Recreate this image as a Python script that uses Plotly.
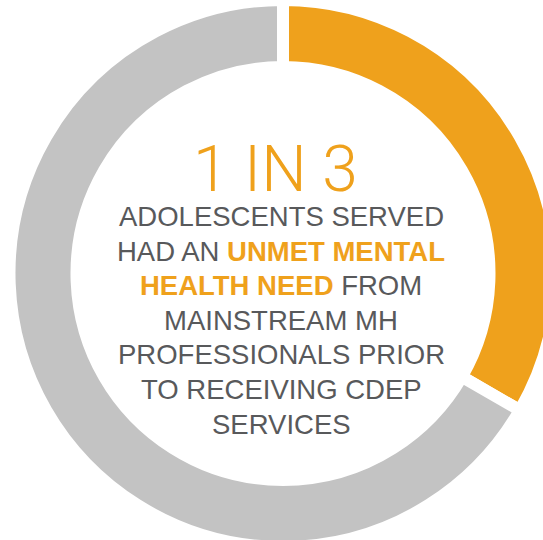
import plotly.graph_objects as go

# Share of adolescents served, split into "unmet need" vs the rest
segment_labels = ["Unmet mental health need", "Other adolescents served"]
segment_values = [1, 2]
segment_colors = ["#EFA11C", "#C3C3C3"]

headline = "1 IN 3"
ORANGE = "#EFA11C"
GREY_TEXT = "#58595B"

body_lines = [
    "ADOLESCENTS SERVED",
    f"HAD AN <span style='color:{ORANGE}'><b>UNMET MENTAL</b></span>",
    f"<span style='color:{ORANGE}'><b>HEALTH NEED</b></span> FROM",
    "MAINSTREAM MH",
    "PROFESSIONALS PRIOR",
    "TO RECEIVING CDEP",
    "SERVICES",
]

W, H = 566, 547

fig = go.Figure(
    go.Pie(
        labels=segment_labels,
        values=segment_values,
        sort=False,
        direction="clockwise",
        rotation=0,
        hole=0.755,
        marker=dict(colors=segment_colors, line=dict(color="white", width=12)),
        textinfo="none",
        hoverinfo="label+percent",
        showlegend=False,
        domain=dict(x=[0, 1], y=[0, 1]),
    )
)

annotations = [
    dict(
        text=headline,
        x=275 / W, y=1 - 170 / H,
        xref="paper", yref="paper",
        xanchor="center", yanchor="middle",
        showarrow=False,
        font=dict(family="Roboto", size=64, color=ORANGE, weight=300),
    )
]
first_center, spacing = 216.5, 34.6
for i, line in enumerate(body_lines):
    annotations.append(
        dict(
            text=line,
            x=281 / W, y=1 - (first_center + i * spacing) / H,
            xref="paper", yref="paper",
            xanchor="center", yanchor="middle",
            showarrow=False,
            font=dict(family="Liberation Sans", size=27.5, color=GREY_TEXT),
        )
    )

fig.update_layout(
    width=W,
    height=H,
    margin=dict(l=0, r=0, t=0, b=0),
    paper_bgcolor="white",
    plot_bgcolor="white",
    annotations=annotations,
)

fig.write_html(
    "out.html",
    post_script="document.documentElement.style.overflow='hidden';"
                "document.body.style.overflow='hidden';"
                "document.body.style.margin='0';",
)
